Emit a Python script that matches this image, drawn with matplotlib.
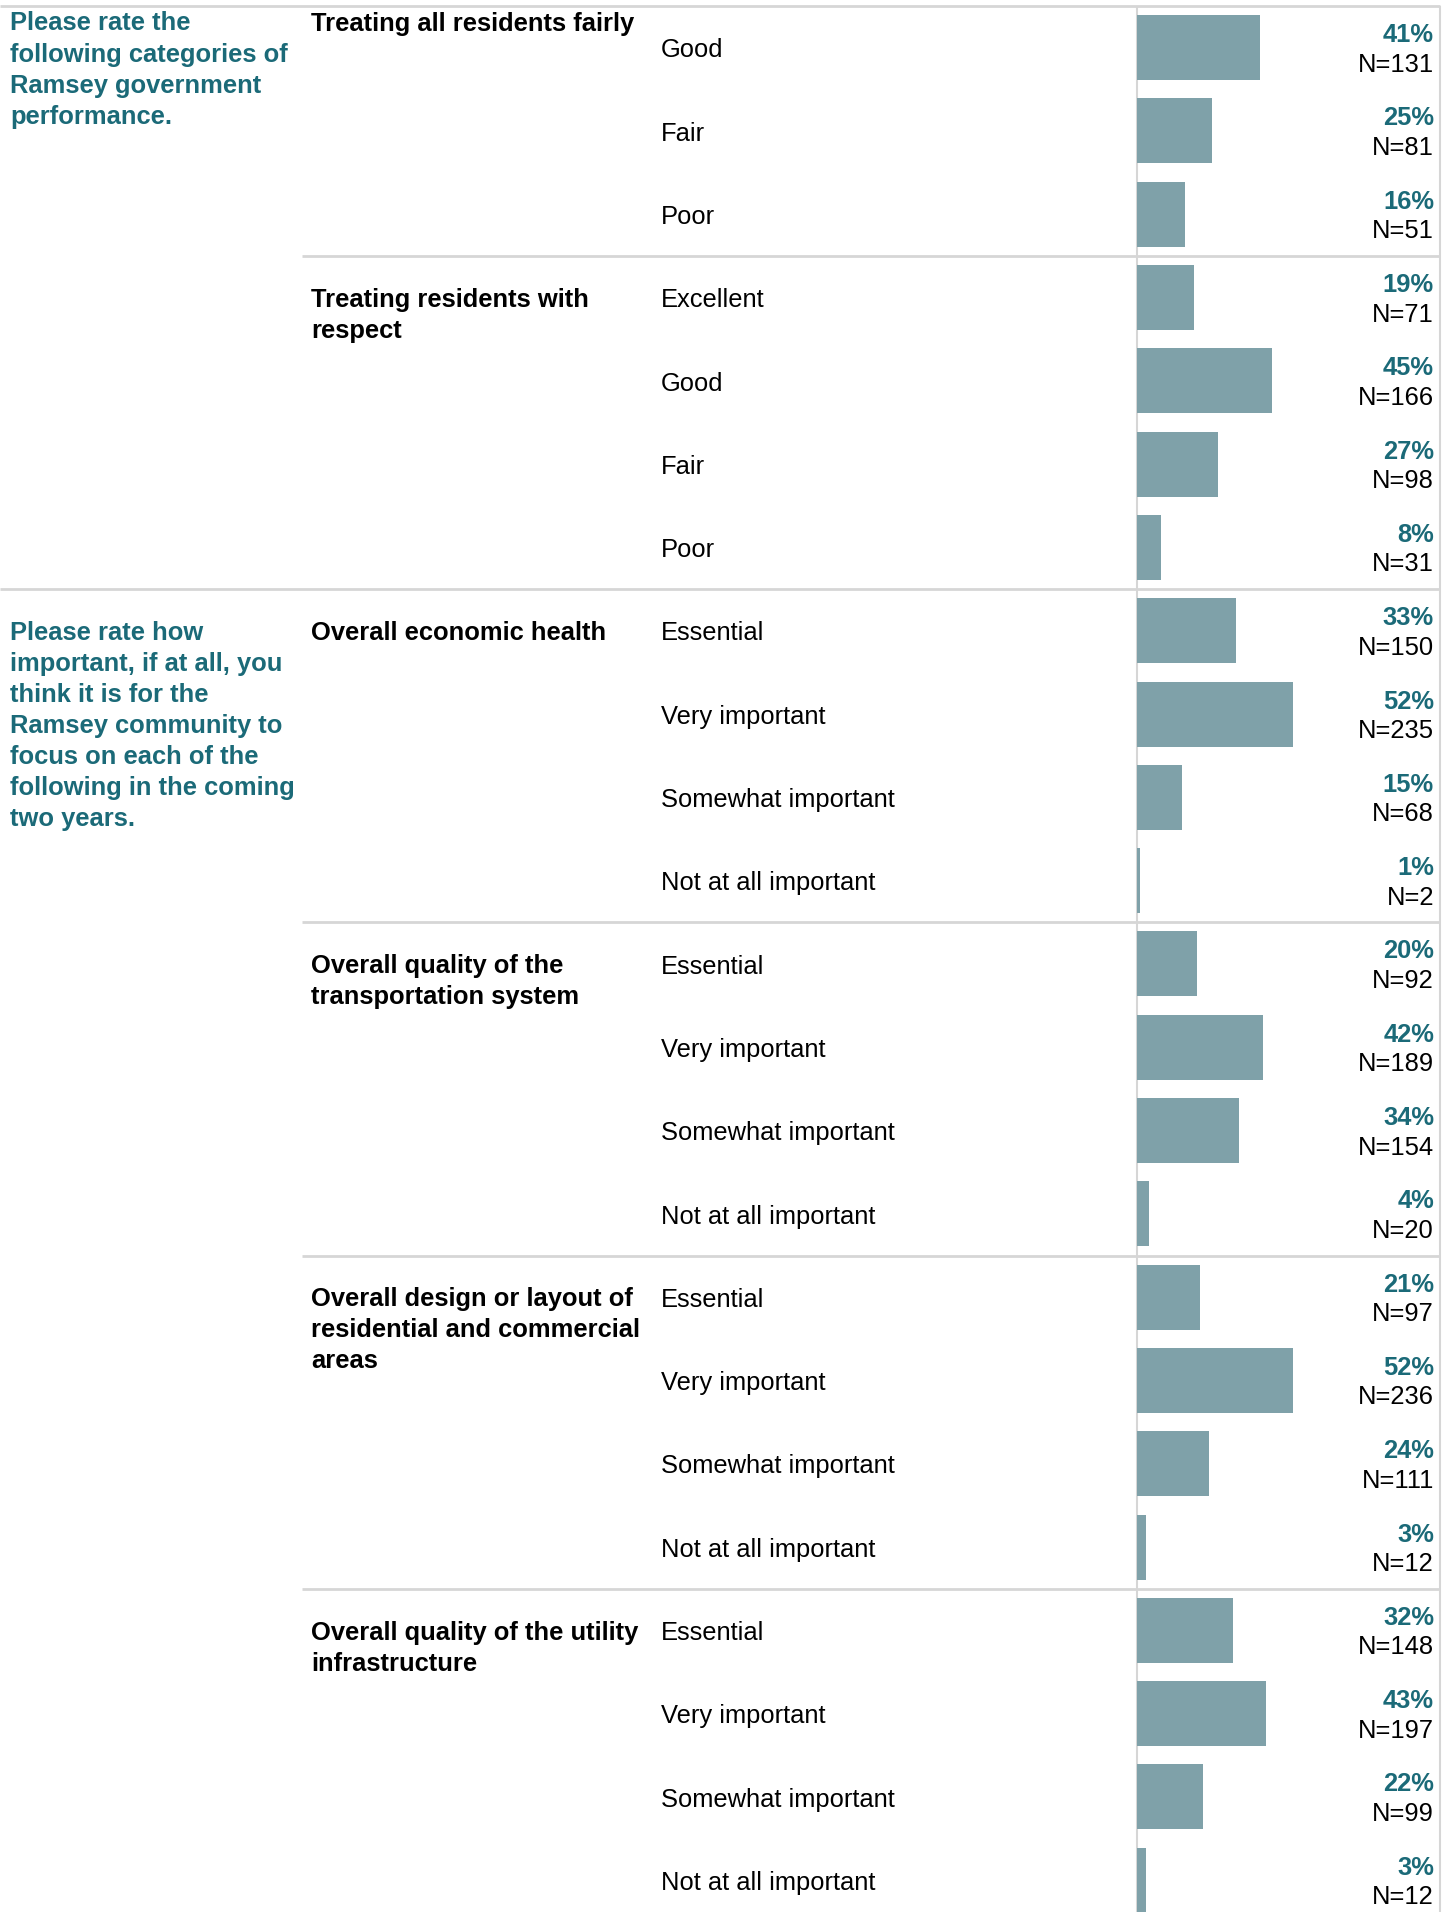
import matplotlib.pyplot as plt

# Дані опитування
questions = [
    "Please rate the\nfollowing categories of\nRamsey government\nperformance.",
    "Please rate how\nimportant, if at all, you\nthink it is for the\nRamsey community to\nfocus on each of the\nfollowing in the coming\ntwo years.",
]
question_subgroups = [2, 4]  # скільки підгруп у кожному питанні

subgroups = [
    "Treating all residents fairly",
    "Treating residents with\nrespect",
    "Overall economic health",
    "Overall quality of the\ntransportation system",
    "Overall design or layout of\nresidential and commercial\nareas",
    "Overall quality of the utility\ninfrastructure",
]
subgroup_rows = [3, 4, 4, 4, 4, 4]  # скільки рядків у кожній підгрупі

importance = ["Essential", "Very important", "Somewhat important", "Not at all important"]
categories = ["Good", "Fair", "Poor", "Excellent", "Good", "Fair", "Poor"] + importance * 4
pct = [41, 25, 16, 19, 45, 27, 8,
       33, 52, 15, 1,
       20, 42, 34, 4,
       21, 52, 24, 3,
       32, 43, 22, 3]
n_resp = [131, 81, 51, 71, 166, 98, 31,
          150, 235, 68, 2,
          92, 189, 154, 20,
          97, 236, 111, 12,
          148, 197, 99, 12]

# Розмітка (в пікселях)
W, H = 1455, 1912
ROW = 83.3          # висота рядка
TOP = 6             # верхня лінія
X_Q, X_SUB, X_CAT = 10, 311, 661
X_BAR0, X_BAR1 = 1137, 1440
X_LBL = 1434
TEAL = "#1b6a78"
BAR = "#7fa1a9"
GRID = "#d6d6d6"
FS = 18.4
LS = 1.37
FONT = "Liberation Sans"

plt.rcParams["font.family"] = [FONT, "DejaVu Sans"]

fig = plt.figure(figsize=(W / 100, H / 100), dpi=100)
ax = fig.add_axes([0, 0, 1, 1])
y_top = -TOP / ROW
y_bot = (H - TOP) / ROW
ax.set_xlim(0, W)
ax.set_ylim(y_bot, y_top)
ax.axis("off")

# Стовпчики
bax = fig.add_axes([X_BAR0 / W, 0, (X_BAR1 - X_BAR0) / W, 1])
rows = list(range(len(pct)))
bax.barh([r + 0.5 for r in rows], pct, height=0.78, color=BAR, zorder=2)
bax.set_xlim(0, 101)
bax.set_ylim(y_bot, y_top)
bax.axis("off")

cap = 17.5 / ROW  # висота великих літер у рядках

# Лінії сітки
ax.hlines(0, 0, X_BAR1, color=GRID, lw=2)
ax.vlines([X_BAR0, X_BAR1], 0, y_bot, color=GRID, lw=1.5)

# Підписи категорій, відсотки та N
for r in rows:
    c = r + 0.5
    ax.text(X_CAT, c + cap / 2 + 1 / ROW, categories[r], fontsize=FS, va="baseline", ha="left", color="black")
    ax.text(X_LBL, c - 5.5 / ROW, f"{pct[r]}%", fontsize=FS, fontweight="bold", color=TEAL,
            va="baseline", ha="right")
    ax.text(X_LBL, c + 24 / ROW, f"N={n_resp[r]}", fontsize=FS, color="black",
            va="baseline", ha="right")

# Підгрупи та питання
first_top = 5.5 / ROW  # верх першого рядка тексту в першій групі
r0 = 0
sg = 0
for qi, q in enumerate(questions):
    q_start = r0
    for k in range(question_subgroups[qi]):
        top = first_top if sg == 0 else r0 + 0.5 - cap / 2 - 1 / ROW
        ax.text(X_SUB, top, subgroups[sg], fontsize=FS, fontweight="bold", color="black",
                va="top", ha="left", linespacing=LS)
        r0 += subgroup_rows[sg]
        sg += 1
        # лінія під підгрупою
        if k < question_subgroups[qi] - 1:
            ax.hlines(r0, X_SUB - 9, X_BAR1, color=GRID, lw=2)
    qtop = first_top if qi == 0 else q_start + 0.5 - cap / 2 - 1 / ROW
    ax.text(X_Q, qtop, q, fontsize=FS, fontweight="bold", color=TEAL,
            va="top", ha="left", linespacing=LS)
    if qi < len(questions) - 1:
        ax.hlines(r0, 0, X_BAR1, color=GRID, lw=2)

fig.savefig("out.png", dpi=100)
